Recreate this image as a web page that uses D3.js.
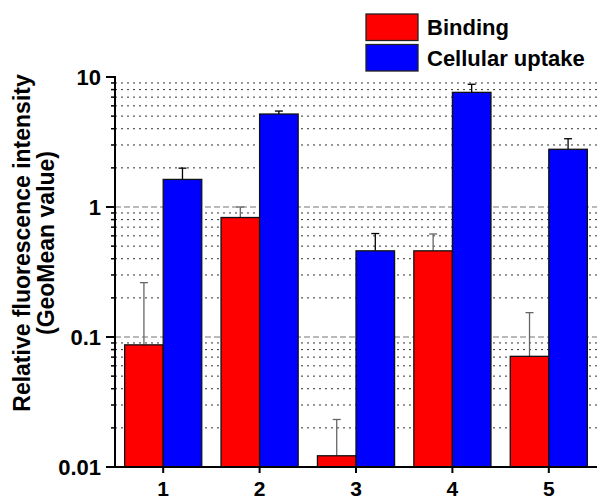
<!DOCTYPE html>
<html><head><meta charset="utf-8">
<script src="https://cdn.jsdelivr.net/npm/d3@7"></script>
<style>body{margin:0;background:#fff}svg{display:block}text{font-family:"Liberation Sans",Arial,sans-serif;font-weight:bold;fill:#000}</style>
</head><body><svg id="c" width="597" height="499"></svg>
<script>
const categories = ["1","2","3","4","5"];
const seriesNames = ["Binding","Cellular uptake"];
const seriesColors = ["#ff0000","#0000ff"];
const binding = [0.087, 0.83, 0.0122, 0.46, 0.071];
const bindingErr = [0.175, 0.17, 0.011, 0.16, 0.083];
const uptake = [1.63, 5.19, 0.46, 7.62, 2.78];
const uptakeErr = [0.36, 0.28, 0.165, 1.17, 0.57];
const yTicks = [0.01, 0.1, 1, 10];
const yTickLabels = ["0.01","0.1","1","10"];
const yTitle = ["Relative fluorescence intensity", "(GeoMean value)"];

const svg = d3.select("#c");
const x = d3.scaleLinear().domain([0.5, 5.5]).range([115, 597]);
const y = d3.scaleLog().domain([0.01, 10]).range([467, 77]);
const bw = x(1.4) - x(1);

// gridlines
const minor = [];
[0.01, 0.1, 1].forEach(d => { for (let k = 2; k <= 9; k++) minor.push(d * k); });
const g = svg.append("g");
g.selectAll("line.mi").data(minor).join("line")
  .attr("x1", x(0.5)).attr("x2", x(5.5))
  .attr("y1", d => y(d)).attr("y2", d => y(d))
  .attr("stroke", "#333").attr("stroke-width", 1).attr("stroke-dasharray", "2,4");
g.selectAll("line.ma").data([0.1, 1]).join("line")
  .attr("x1", x(0.5)).attr("x2", x(5.5))
  .attr("y1", d => y(d)).attr("y2", d => y(d))
  .attr("stroke", "#777").attr("stroke-width", 1.2).attr("stroke-dasharray", "6,3");

// bars
const series = [
  {vals: binding, err: binding.map((v,i)=>v+bindingErr[i]), off: -0.4, color: seriesColors[0], ec: "#666"},
  {vals: uptake, err: uptake.map((v,i)=>v+uptakeErr[i]), off: 0, color: seriesColors[1], ec: "#000"}
];
series.forEach(s => {
  const gg = svg.append("g");
  gg.selectAll("line.st").data(s.vals).join("line")
    .attr("x1", (d,i) => x(i+1+s.off+0.2)).attr("x2", (d,i) => x(i+1+s.off+0.2))
    .attr("y1", d => y(d)).attr("y2", (d,i) => y(s.err[i]))
    .attr("stroke", s.ec).attr("stroke-width", 1.3);
  gg.selectAll("line.cap").data(s.vals).join("line")
    .attr("x1", (d,i) => x(i+1+s.off+0.2)-4).attr("x2", (d,i) => x(i+1+s.off+0.2)+4)
    .attr("y1", (d,i) => y(s.err[i])).attr("y2", (d,i) => y(s.err[i]))
    .attr("stroke", s.ec).attr("stroke-width", 1.3);
  gg.selectAll("rect").data(s.vals).join("rect")
    .attr("x", (d,i) => x(i+1+s.off)).attr("width", bw)
    .attr("y", d => y(d)).attr("height", d => y(0.01) - y(d))
    .attr("fill", s.color).attr("stroke", "#111").attr("stroke-width", 1.3);
});

// y axis
const ya = svg.append("g");
ya.append("line").attr("x1", 115).attr("x2", 115).attr("y1", y(10) - 1).attr("y2", y(0.01) + 1)
  .attr("stroke", "#000").attr("stroke-width", 2);
ya.selectAll("line.mt").data(minor).join("line")
  .attr("x1", 111).attr("x2", 116).attr("y1", d => y(d)).attr("y2", d => y(d))
  .attr("stroke", "#000").attr("stroke-width", 1.5);
ya.selectAll("line.Mt").data(yTicks).join("line")
  .attr("x1", 106).attr("x2", 115).attr("y1", d => y(d)).attr("y2", d => y(d))
  .attr("stroke", "#000").attr("stroke-width", 2);
ya.selectAll("text").data(yTicks).join("text")
  .attr("x", 101).attr("y", d => y(d)).attr("dy", "0.36em")
  .attr("text-anchor", "end").style("font-size", "22px")
  .text((d,i) => yTickLabels[i]);

// x axis
const xa = svg.append("g");
xa.append("line").attr("x1", 114).attr("x2", 597).attr("y1", y(0.01)).attr("y2", y(0.01))
  .attr("stroke", "#000").attr("stroke-width", 2);
xa.selectAll("line.t").data(categories).join("line")
  .attr("x1", (d,i) => x(i+1)).attr("x2", (d,i) => x(i+1))
  .attr("y1", y(0.01)).attr("y2", y(0.01) + 6)
  .attr("stroke", "#000").attr("stroke-width", 2);
xa.selectAll("text").data(categories).join("text")
  .attr("x", (d,i) => x(i+1)).attr("y", 496)
  .attr("text-anchor", "middle").style("font-size", "21px").text(d => d);

// y title
yTitle.forEach((t, i) => {
  svg.append("text").attr("transform", `translate(${22 + i * 23.5},243) rotate(-90)`)
    .attr("text-anchor", "middle").attr("dy", "0.36em").style("font-size", "23px").text(t);
});

// legend
const lg = svg.append("g");
seriesNames.forEach((n, i) => {
  lg.append("rect").attr("x", 366).attr("y", 14 + i * 30.5).attr("width", 52).attr("height", 26.5)
    .attr("fill", seriesColors[i]).attr("stroke", "#222").attr("stroke-width", 1.3);
  lg.append("text").attr("x", 427).attr("y", 27.5 + i * 30.5).attr("dy", "0.36em")
    .style("font-size", "22px").text(n);
});
</script></body></html>
